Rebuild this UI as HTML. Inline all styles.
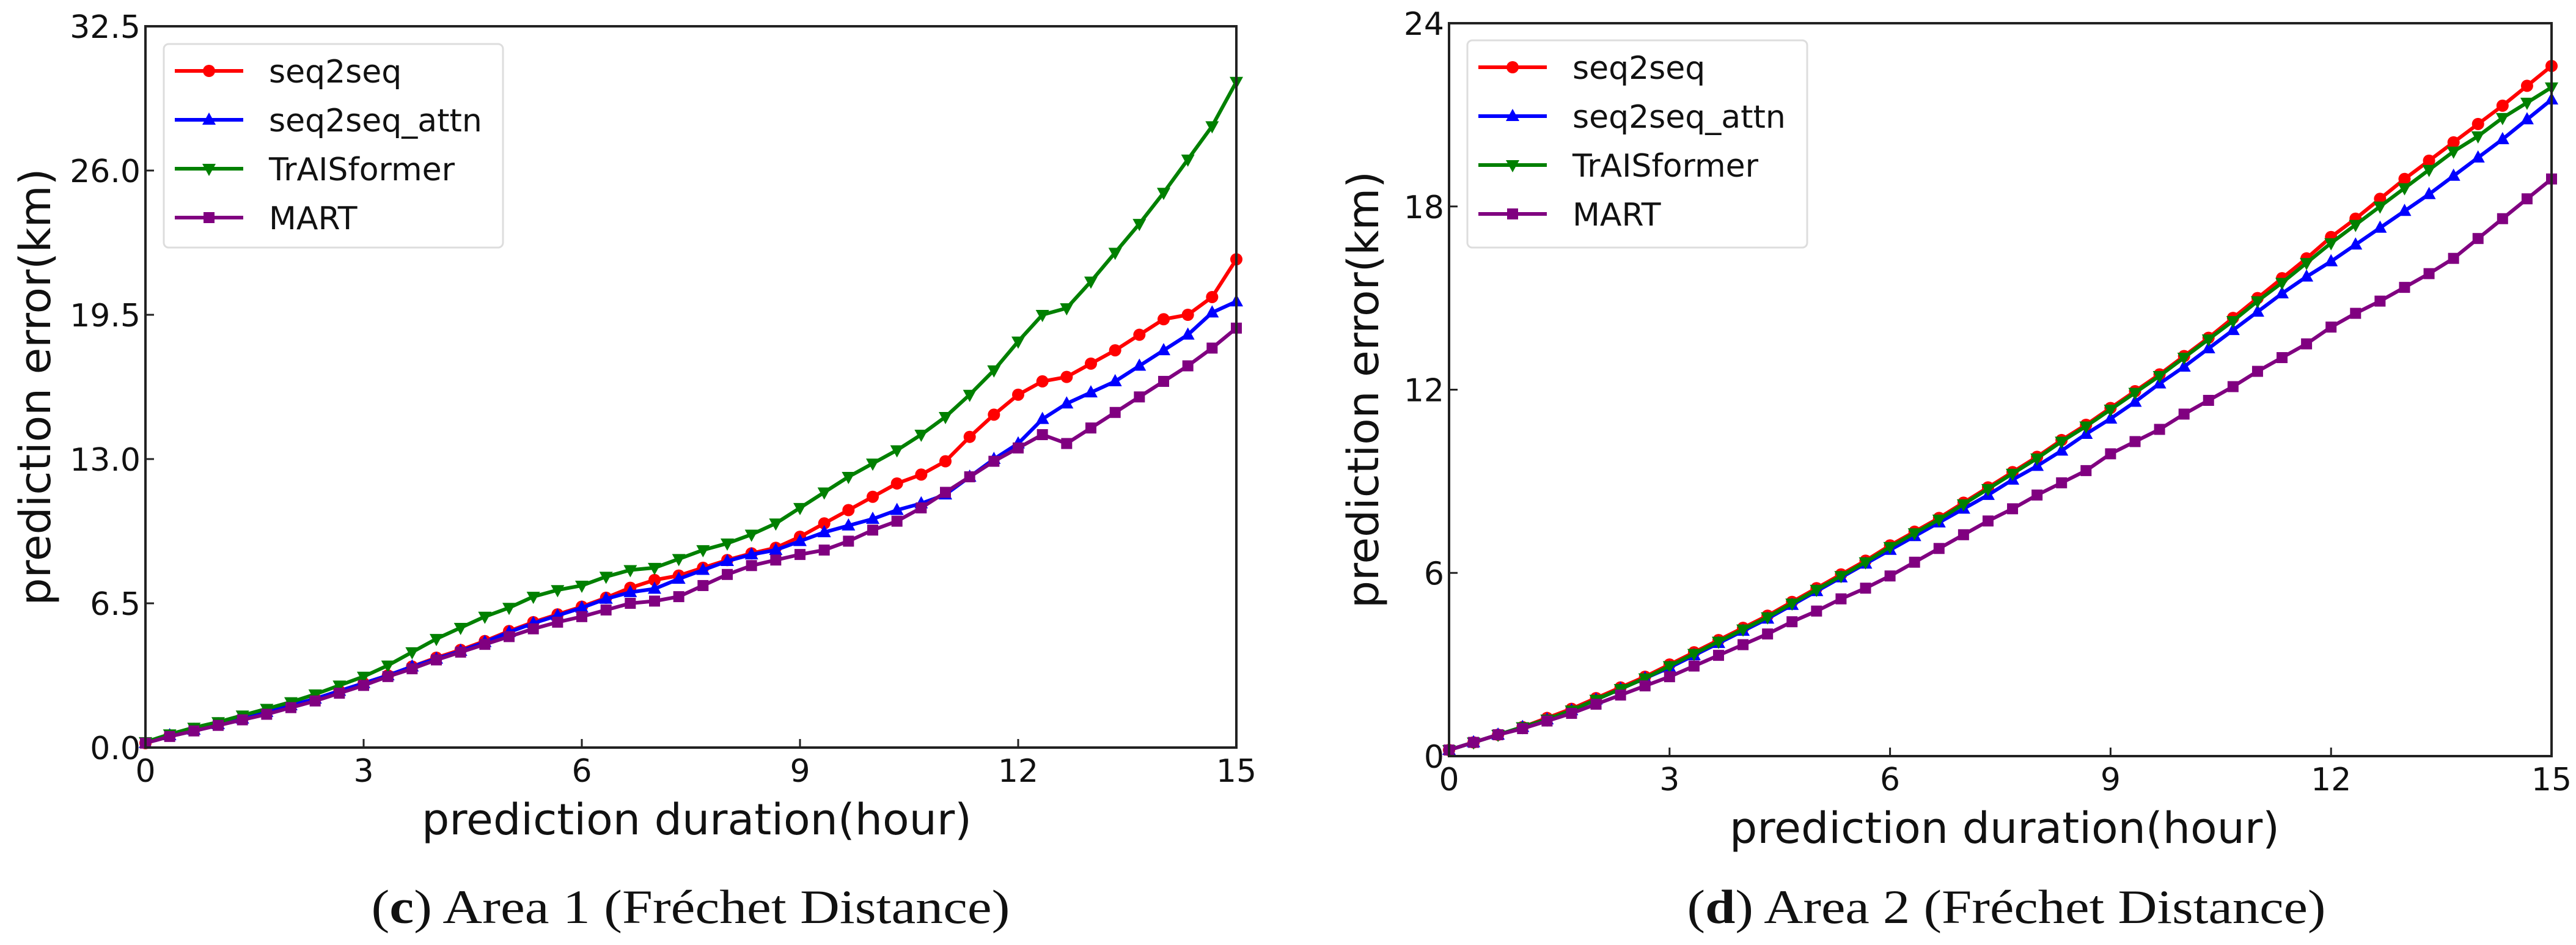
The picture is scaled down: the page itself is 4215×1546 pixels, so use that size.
<!DOCTYPE html>
<html><head><meta charset="utf-8"><style>
html,body{margin:0;padding:0;background:#fff;}
svg{display:block;}
</style></head><body>
<svg id="fig" width="4215" height="1546" viewBox="0 0 4215 1546" xmlns="http://www.w3.org/2000/svg"></svg>
<script>
const xTicks=[0,3,6,9,12,15];
const leftYTicks=[0,6.5,13,19.5,26,32.5];
const leftYTickLabels=["0.0","6.5","13.0","19.5","26.0","32.5"];
const rightYTicks=[0,6,12,18,24];
const rightYTickLabels=["0","6","12","18","24"];
const seriesNames=["seq2seq","seq2seq_attn","TrAISformer","MART"];
const hours=[];for(let k=0;k<46;k++)hours.push(k/3);
const leftSeq2seq=[0.2,0.55,0.8,1.05,1.3,1.6,1.9,2.2,2.55,2.9,3.25,3.65,4.05,4.4,4.8,5.25,5.65,6.0,6.35,6.75,7.2,7.55,7.75,8.1,8.45,8.75,9.0,9.5,10.1,10.7,11.3,11.9,12.3,12.9,14.0,15.0,15.9,16.5,16.7,17.3,17.9,18.6,19.3,19.5,20.3,22.0];
const leftAttn=[0.2,0.55,0.8,1.05,1.3,1.6,1.9,2.2,2.55,2.9,3.25,3.65,4.0,4.35,4.75,5.2,5.6,5.95,6.3,6.7,7.0,7.15,7.6,8.0,8.4,8.7,8.9,9.3,9.7,10.0,10.3,10.7,11.0,11.4,12.2,13.0,13.7,14.8,15.5,16.0,16.5,17.2,17.9,18.6,19.6,20.1];
const leftTrAIS=[0.25,0.6,0.9,1.15,1.45,1.75,2.05,2.4,2.8,3.2,3.7,4.3,4.9,5.4,5.9,6.3,6.8,7.1,7.3,7.7,8.0,8.1,8.5,8.9,9.2,9.6,10.1,10.8,11.5,12.2,12.8,13.4,14.1,14.9,15.9,17.0,18.3,19.5,19.8,21.0,22.3,23.6,25.0,26.5,28.0,30.0];
const leftMART=[0.2,0.5,0.75,1.0,1.25,1.5,1.8,2.1,2.45,2.8,3.2,3.55,3.95,4.3,4.65,5.0,5.35,5.65,5.9,6.2,6.5,6.6,6.8,7.3,7.8,8.2,8.45,8.7,8.9,9.3,9.8,10.2,10.8,11.5,12.2,12.9,13.5,14.1,13.7,14.4,15.1,15.8,16.5,17.2,18.0,18.9];
const rightSeq2seq=[0.2,0.45,0.7,0.95,1.25,1.55,1.9,2.25,2.6,3.0,3.4,3.8,4.2,4.6,5.05,5.5,5.95,6.4,6.9,7.35,7.8,8.3,8.8,9.3,9.8,10.35,10.85,11.4,11.95,12.5,13.1,13.7,14.35,15.0,15.65,16.3,17.0,17.6,18.25,18.9,19.5,20.1,20.7,21.3,21.95,22.6];
const rightAttn=[0.2,0.45,0.7,0.95,1.2,1.5,1.85,2.2,2.55,2.9,3.3,3.7,4.1,4.5,4.95,5.4,5.85,6.3,6.75,7.2,7.65,8.1,8.55,9.05,9.5,10.0,10.55,11.05,11.6,12.2,12.75,13.35,13.95,14.55,15.15,15.7,16.2,16.75,17.3,17.85,18.4,19.0,19.6,20.2,20.85,21.5];
const rightTrAIS=[0.2,0.45,0.7,0.95,1.2,1.5,1.85,2.2,2.55,2.95,3.35,3.75,4.15,4.55,5.0,5.45,5.9,6.35,6.85,7.3,7.75,8.25,8.75,9.25,9.75,10.3,10.8,11.35,11.9,12.45,13.05,13.65,14.25,14.9,15.5,16.15,16.8,17.4,18.0,18.6,19.2,19.8,20.3,20.9,21.4,21.9];
const rightMART=[0.2,0.45,0.7,0.9,1.15,1.4,1.7,2.0,2.3,2.6,2.95,3.3,3.65,4.0,4.4,4.75,5.15,5.5,5.9,6.35,6.8,7.25,7.7,8.1,8.55,8.95,9.35,9.9,10.3,10.7,11.2,11.65,12.1,12.6,13.05,13.5,14.05,14.5,14.9,15.35,15.8,16.3,16.95,17.6,18.25,18.9];

const NS="http://www.w3.org/2000/svg";
const svg=document.getElementById('fig');
const colors=["#ff0000","#0000ff","#008000","#800080"];
const markers=["circle","tri-up","tri-down","square"];
function el(tag,attrs,parent){const e=document.createElementNS(NS,tag);for(const k in attrs)e.setAttribute(k,attrs[k]);(parent||svg).appendChild(e);return e;}
function marker(g,type,x,y,c,s){
  let m;
  if(type==="circle"){m=el('circle',{cx:x,cy:y,r:s*0.5,fill:c},g);}
  else if(type==="square"){m=el('rect',{x:x-s*0.45,y:y-s*0.45,width:s*0.9,height:s*0.9,fill:c},g);}
  else if(type==="tri-up"){m=el('polygon',{points:`${x},${y-s*0.6} ${x-s*0.55},${y+s*0.4} ${x+s*0.55},${y+s*0.4}`,fill:c},g);}
  else {m=el('polygon',{points:`${x},${y+s*0.6} ${x-s*0.55},${y-s*0.4} ${x+s*0.55},${y-s*0.4}`,fill:c},g);}
  
  
}
function panel(cfg){
  const g=el('g',{});
  
  
  const X=v=>cfg.x0+(v-0)/(15-0)*(cfg.x1-cfg.x0);
  const Y=v=>cfg.y1-(v-0)/(cfg.ymax)*(cfg.y1-cfg.y0);
  // series
  cfg.series.forEach((s,i)=>{
    const sg=el('g',{},g);
    
    
    const pts=s.map((v,k)=>X(hours[k])+','+Y(v)).join(' ');
    const pl=el('polyline',{points:pts,fill:'none',stroke:colors[i],'stroke-width':6,'stroke-linejoin':'round'},sg);
    
    
    s.forEach((v,k)=>marker(sg,markers[i],X(hours[k]),Y(v),colors[i],20));
  });
  // frame
  const fr=el('rect',{x:cfg.x0,y:cfg.y0,width:cfg.x1-cfg.x0,height:cfg.y1-cfg.y0,fill:'none',stroke:'#222','stroke-width':4},g);
  
  
  // x ticks
  xTicks.forEach(t=>{
    el('line',{x1:X(t),x2:X(t),y1:cfg.y1,y2:cfg.y1-14,stroke:'#222','stroke-width':3},g);
    const tx=el('text',{x:X(t),y:cfg.y1+56,'text-anchor':'middle','font-family':'DejaVu Sans, Liberation Sans, sans-serif','font-size':52,fill:'#111'},g);
    tx.textContent=t;
    
    
  });
  cfg.yTicks.forEach((t,i)=>{
    el('line',{x1:cfg.x0,x2:cfg.x0+14,y1:Y(t),y2:Y(t),stroke:'#222','stroke-width':3},g);
    const tx=el('text',{x:cfg.x0-8,y:Y(t)+19,'text-anchor':'end','font-family':'DejaVu Sans, Liberation Sans, sans-serif','font-size':52,fill:'#111'},g);
    tx.textContent=cfg.yLabels[i];
    
    
  });
  // axis titles
  const xt=el('text',{x:cfg.xlabX,y:cfg.y1+142,'text-anchor':'middle','font-family':'DejaVu Sans, Liberation Sans, sans-serif','font-size':70,fill:'#111',textLength:900,lengthAdjust:'spacingAndGlyphs'},g);
  xt.textContent='prediction duration(hour)';
  
  
  const yc=(cfg.y0+cfg.y1)/2;
  const yt=el('text',{x:0,y:0,'text-anchor':'middle','font-family':'DejaVu Sans, Liberation Sans, sans-serif','font-size':70,fill:'#111',textLength:715,lengthAdjust:'spacingAndGlyphs',transform:`translate(${cfg.ylabX},${yc}) rotate(-90)`},g);
  yt.textContent='prediction error(km)';
  
  
  // legend
  const lg=el('g',{},g);
  
  
  el('rect',{x:cfg.lx0,y:cfg.ly0,width:cfg.lx1-cfg.lx0,height:cfg.ly1-cfg.ly0,rx:8,fill:'#fff',stroke:'#ddd','stroke-width':3},lg);
  seriesNames.forEach((n,i)=>{
    const ey=cfg.ly0+44+i*80;
    const eg=el('g',{},lg);
    
    
    el('line',{x1:cfg.lx0+18,x2:cfg.lx0+130,y1:ey,y2:ey,stroke:colors[i],'stroke-width':6},eg);
    marker(eg,markers[i],cfg.lx0+74,ey,colors[i],20);
    const t=el('text',{x:cfg.lx0+172,y:ey+19,'font-family':'DejaVu Sans, Liberation Sans, sans-serif','font-size':52,fill:'#111'},eg);
    t.textContent=n;
  });
  // caption
  const cap=el('text',{x:cfg.capX,y:1510,'text-anchor':'middle','font-family':'Liberation Serif, serif','font-size':78,fill:'#111',textLength:1045,lengthAdjust:'spacingAndGlyphs'},g);
  
  
  const t1=document.createElementNS(NS,'tspan');t1.textContent='(';cap.appendChild(t1);
  const t2=document.createElementNS(NS,'tspan');t2.setAttribute('font-weight','bold');t2.textContent=cfg.letter;cap.appendChild(t2);
  const t3=document.createElementNS(NS,'tspan');t3.textContent=') '+cfg.capText;cap.appendChild(t3);
}
panel({name:'chart-area1',x0:238,x1:2023,y0:43,y1:1223,ymax:32.5,yTicks:leftYTicks,yLabels:leftYTickLabels,
  series:[leftSeq2seq,leftAttn,leftTrAIS,leftMART],xlabX:1140,ylabX:82,lx0:268,lx1:823,ly0:72,ly1:405,capX:1130,letter:'c',capText:'Area 1 (Fréchet Distance)'});
panel({name:'chart-area2',x0:2371,x1:4175,y0:38,y1:1237,ymax:24,yTicks:rightYTicks,yLabels:rightYTickLabels,
  series:[rightSeq2seq,rightAttn,rightTrAIS,rightMART],xlabX:3280,ylabX:2255,lx0:2401,lx1:2957,ly0:66,ly1:405,capX:3283,letter:'d',capText:'Area 2 (Fréchet Distance)'});
</script>
</body></html>
